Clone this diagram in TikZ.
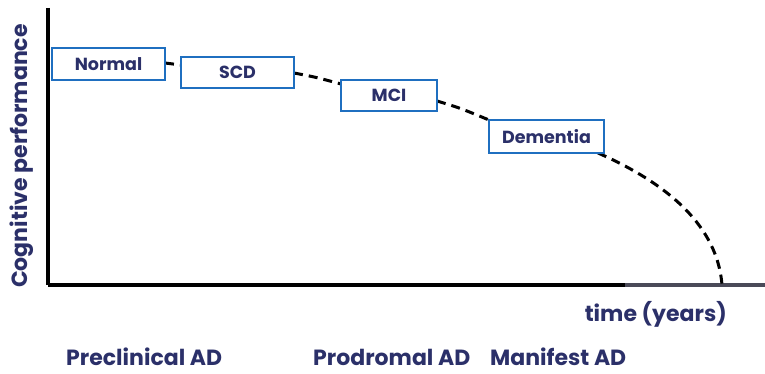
\documentclass[tikz,border=0pt]{standalone}
\usepackage{fontspec}
\setmainfont{Poppins}
\definecolor{navy}{HTML}{2B3069}
\definecolor{boxblue}{HTML}{1F6FC0}
\definecolor{axisgrey}{HTML}{4A4A58}
\begin{document}
\begin{tikzpicture}[x=1pt,y=1pt,
  stage/.style={draw=boxblue,line width=2.8pt,fill=white,text=navy,font=\bfseries\fontsize{17.5}{19}\selectfont,inner sep=0pt,anchor=center},
  lbl/.style={text=navy,font=\bfseries\fontsize{22}{24}\selectfont,inner sep=0pt},
  curve/.style={black,line width=3pt,dash pattern=on 9pt off 6pt}]
\useasboundingbox (0,0) rectangle (765,374);
% axes
\coordinate (ytop) at (48,366);
\coordinate (orig) at (48,89);
\coordinate (xmid) at (625,89);
\coordinate (xend) at (765,89);
\draw[black,line width=4pt] (ytop) -- (orig);
\draw[black,line width=4pt] (orig) -- (xmid);
\draw[axisgrey,line width=4pt] (xmid) -- (xend);
% curve
\coordinate (c1) at (165,311);
\coordinate (c2) at (181,309);
\coordinate (c3) at (294,301);
\coordinate (c4) at (341,290);
\coordinate (c5) at (437,273);
\coordinate (c6) at (489,254);
\coordinate (c7) at (598,221);
\coordinate (cend) at (722,89);
\draw[curve] (c1) -- (c2);
\draw[curve] (c3) .. controls (315,297) .. (c4);
\draw[curve] (c5) .. controls (460,266) .. (c6);
\draw[curve] (c7) .. controls (680,185) and (718,140) .. (cend);
% boxes
\node[stage,minimum width=113pt,minimum height=32pt] (normal) at (108.5,310) {Normal};
\node[stage,minimum width=113pt,minimum height=31pt] (scd) at (237.5,301.5) {SCD};
\node[stage,minimum width=96pt,minimum height=31pt] (mci) at (389,278.5) {MCI};
\node[stage,minimum width=115pt,minimum height=33pt] (dem) at (546.5,237.5) {Dementia};
% labels
\node[lbl,rotate=90] (ylab) at (22,218) {Cognitive performance};
\node[lbl,anchor=east] (xlab) at (727,60) {time (years)};
\node[lbl,anchor=base west] (pre) at (66,8) {Preclinical AD};
\node[lbl,anchor=base west] (pro) at (313,8) {Prodromal AD};
\node[lbl,anchor=base west] (man) at (490,8) {Manifest AD};
\end{tikzpicture}
\end{document}
